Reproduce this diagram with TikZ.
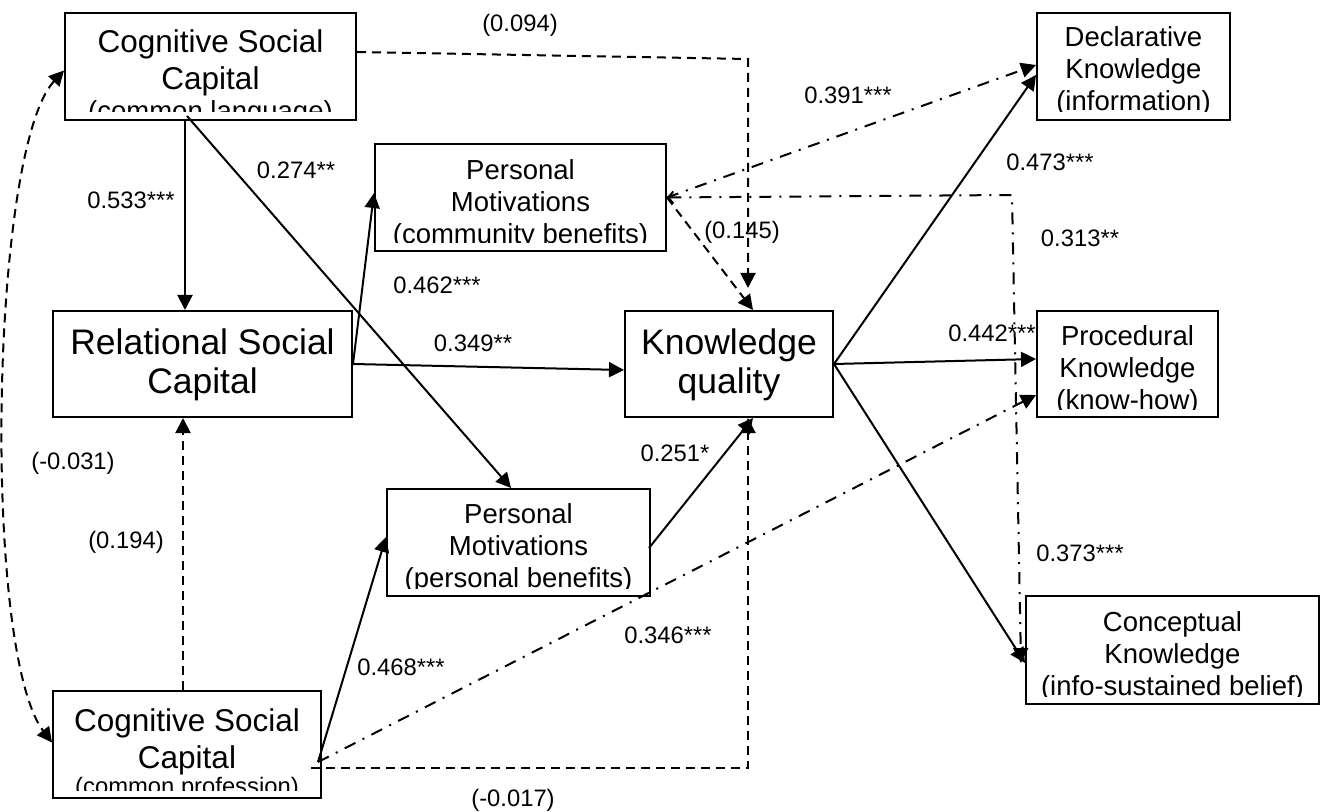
\documentclass[tikz,border=0pt]{standalone}
\usepackage{fontspec}
\setmainfont{Liberation Sans}
\usetikzlibrary{arrows.meta}

\newcommand{\cogfont}{\fontsize{15.75pt}{18.5pt}\selectfont}
\newcommand{\bigfont}{\fontsize{17.75pt}{19.5pt}\selectfont}
\newcommand{\smallfont}{\fontsize{13.75pt}{16pt}\selectfont}
\newcommand{\coeffont}{\fontsize{11.9pt}{14pt}\selectfont}

\begin{document}
\begin{tikzpicture}[x=0.5pt,y=-0.5pt]
    \tikzstyle{box}           = [draw,line width=1pt,inner sep=0pt]
    \tikzstyle{coef}          = [inner sep=0pt,font=\coeffont]
    \tikzstyle{effect}        = [draw,line width=1pt,-{Triangle[length=7.5pt,width=7.5pt]}]
    \tikzstyle{ns effect}     = [effect,dash pattern=on 4.5pt off 3pt]
    \tikzstyle{direct effect} = [effect,dash pattern=on 6pt off 4pt on 1pt off 4pt]
    \tikzset{boxtext/.style n args={4}{path picture={
        \clip ([yshift=4pt]path picture bounding box.south west) rectangle (path picture bounding box.north east);
        \node[anchor=north,align=center,inner sep=0pt,font=#2] (#1) at ([yshift=-#3]path picture bounding box.north) {#4};}}}

    \useasboundingbox (0,0) rectangle (1332,812);

    % constructs
    \node[box,minimum width=145.5pt,minimum height=53.5pt,
          boxtext={csl-t}{\cogfont}{5pt}{Cognitive Social\\Capital\\[-3pt]{\smallfont (common language)}}]   (csl) at (210.5,66.5) {};
    \node[box,minimum width=149.5pt,minimum height=53pt,
          boxtext={rsc-t}{\bigfont}{0pt}{Relational Social\\Capital}]                    (rsc) at (202.5,364)  {};
    \node[box,minimum width=134pt,minimum height=53.5pt,
          boxtext={csp-t}{\cogfont}{4.5pt}{Cognitive Social\\Capital\\[-5.5pt]{\coeffont (common profession)}}] (csp) at (187,744.5)  {};
    \node[box,minimum width=145.5pt,minimum height=53.5pt,
          boxtext={pmc-t}{\smallfont}{2.75pt}{Personal\\Motivations\\(community benefits)}] (pmc) at (520.5,197.5) {};
    \node[box,minimum width=131.5pt,minimum height=53.5pt,
          boxtext={pmp-t}{\smallfont}{2.5pt}{Personal\\Motivations\\(personal benefits)}] (pmp) at (518.5,542.5) {};
    \node[box,minimum width=104pt,minimum height=53pt,
          boxtext={kq-t}{\bigfont}{0pt}{Knowledge\\quality}]                             (kq)  at (729,364)    {};
    \node[box,minimum width=96.5pt,minimum height=53.5pt,
          boxtext={dk-t}{\smallfont}{2pt}{Declarative\\Knowledge\\(information)}]        (dk)  at (1133.5,66.5) {};
    \node[box,minimum width=90.5pt,minimum height=53pt,
          boxtext={pk-t}{\smallfont}{2.5pt}{Procedural\\Knowledge\\(know-how)}]          (pk)  at (1127.5,364) {};
    \node[box,minimum width=146.5pt,minimum height=54pt,
          boxtext={ck-t}{\smallfont}{2.5pt}{Conceptual\\Knowledge\\(info-sustained belief)}] (ck) at (1172.5,650) {};

    \coordinate (top bend)   at (748,59);
    \coordinate (right bend) at (1012,195);

    % significant paths
    \draw[effect] ([xshift=-12.75pt]csl.south) -- ([xshift=-12.75pt]csl.south |- rsc.north);
    \draw[effect] ([xshift=-11.75pt,yshift=2.5pt]csl.south) -- ([xshift=-3.75pt]pmp.north);
    \draw[effect] (rsc.east) -- ([yshift=2.25pt]pmc.west);
    \draw[effect] (rsc.east) -- ([yshift=-3pt]kq.west);
    \draw[effect] ([xshift=-2pt,yshift=-8.75pt]csp.east) -- ([yshift=2.75pt]pmp.west);
    \draw[effect] ([xshift=-1pt,yshift=-2.75pt]pmp.east) -- ([xshift=12pt]kq.south);
    \draw[effect] (kq.east) -- ([yshift=-4.25pt]dk.west);
    \draw[effect] (kq.east) -- ([yshift=2.5pt]pk.west);
    \draw[effect] (kq.east) -- ([yshift=-6.5pt]ck.west);

    % non-significant paths
    \draw[ns effect] ([xshift=-2pt]csp.north) -- ([xshift=-2pt]csp.north |- rsc.south);
    \draw[ns effect] ([yshift=7.25pt]csl.east) -- (top bend) -- ([xshift=9.5pt,yshift=11pt]kq.north);
    \draw[ns effect] (pmc.east) -- ([xshift=12pt]kq.north);
    \draw[ns effect] ([xshift=-5.5pt,yshift=-11.75pt]csp.east) -| ([xshift=9.5pt]kq.south);
    \draw[ns effect,{Triangle[length=7.5pt,width=7.5pt]}-{Triangle[length=7.5pt,width=7.5pt]}]
        ([yshift=-2pt]csl.west) .. controls (-10,150) and (-18,650) .. ([yshift=1pt]csp.west);

    % direct paths
    \draw[direct effect,{Straight Barb[length=2.5pt,width=6pt]}-{Triangle[length=7.5pt,width=7.5pt]}]
        (pmc.east) -- (right bend) -- ([xshift=-2pt,yshift=-6.5pt]ck.west);
    \draw[direct effect] (pmc.east) -- ([yshift=0.75pt]dk.west);
    \draw[direct effect] ([xshift=-2pt,yshift=-8.75pt]csp.east) -- ([yshift=-15.5pt]pk.west);

    % coefficients
    \node[coef] (c533) at (131,200)  {0.533***};
    \node[coef] (c274) at (296,170)  {0.274**};
    \node[coef] (c462) at (437,285)  {0.462***};
    \node[coef] (c349) at (473,343)  {0.349**};
    \node[coef] (c094) at (520,25)   {(0.094)};
    \node[coef] (c145) at (742,232)  {(0.145)};
    \node[coef] (c391) at (848,95)   {0.391***};
    \node[coef] (c473) at (1050,162) {0.473***};
    \node[coef] (c313) at (1080,238) {0.313**};
    \node[coef] (c442) at (992,333)  {0.442***};
    \node[coef] (c373) at (1080,553) {0.373***};
    \node[coef] (c251) at (675,453)  {0.251*};
    \node[coef] (c468) at (401,667)  {0.468***};
    \node[coef] (c346) at (668,635)  {0.346***};
    \node[coef] (c017) at (513,800)  {(-0.017)};
    \node[coef] (c031) at (73,463)   {(-0.031)};
    \node[coef] (c194) at (126,542)  {(0.194)};
\end{tikzpicture}
\end{document}
